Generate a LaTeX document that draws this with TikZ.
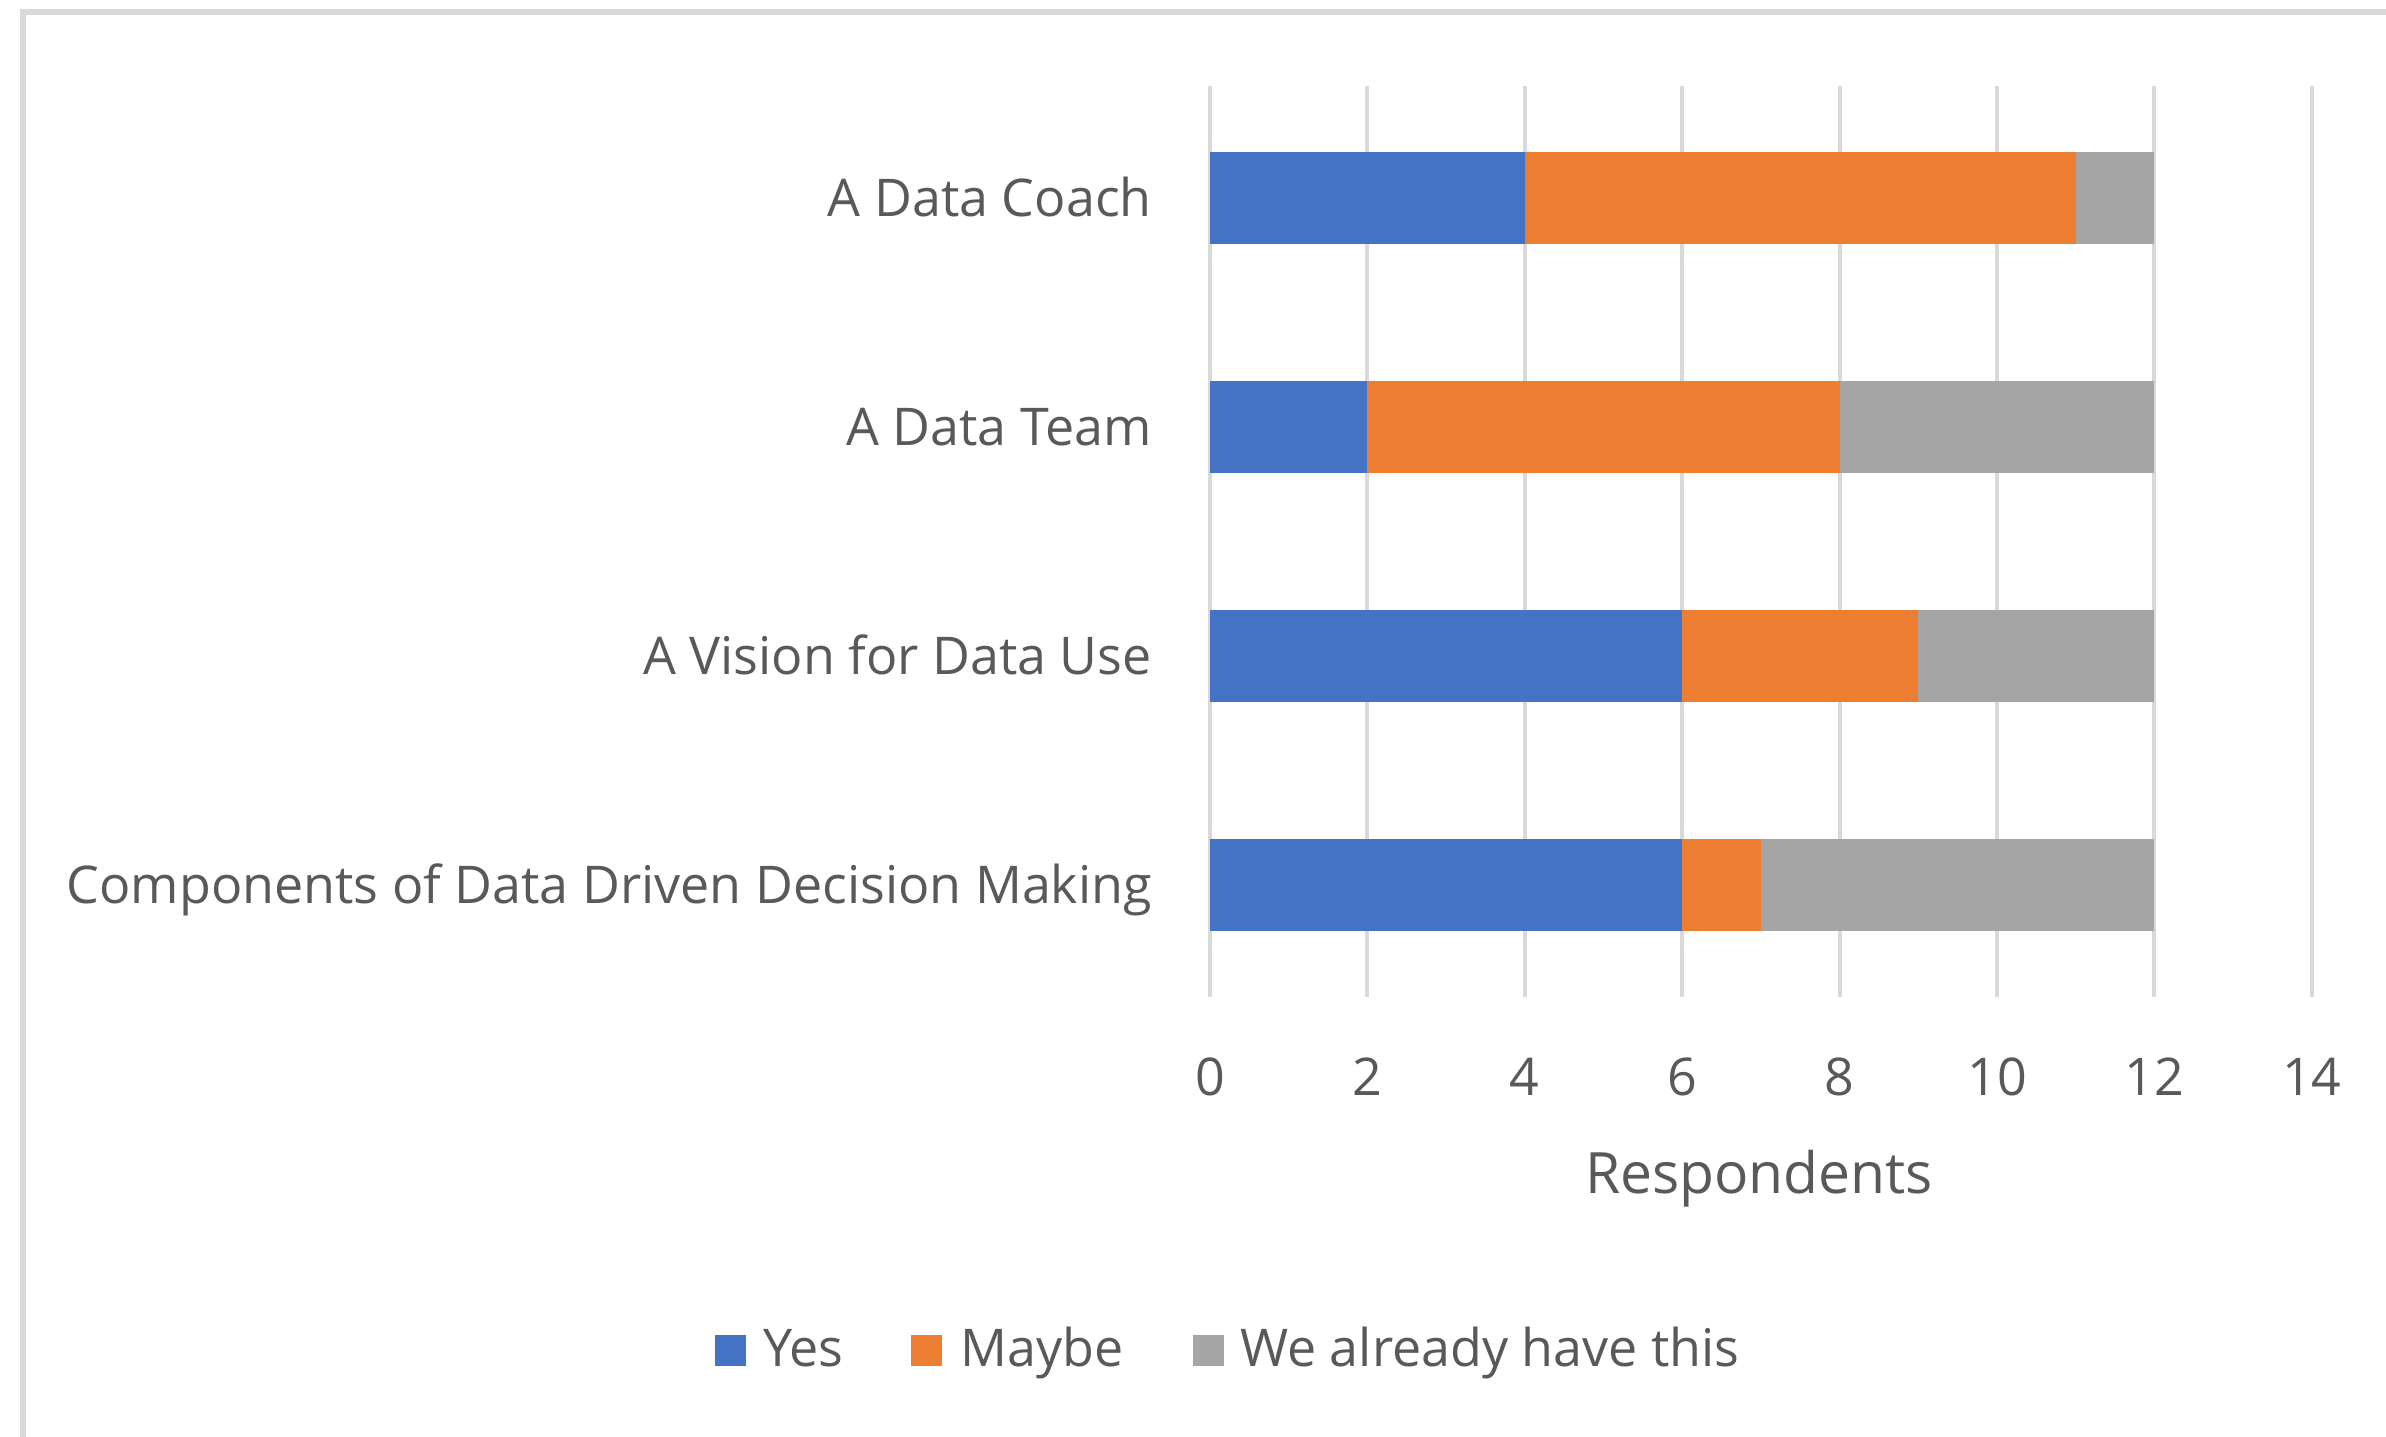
\documentclass[tikz,border=0pt]{standalone}
\usepackage{fontspec}
\setmainfont{Open Sans}
\definecolor{cblue}{HTML}{4472C4}
\definecolor{corange}{HTML}{ED7D31}
\definecolor{cgray}{HTML}{A5A5A5}
\definecolor{gridcol}{HTML}{D9D9D9}
\definecolor{txtgray}{HTML}{595959}
\tikzset{
  lbl/.style={text=txtgray, inner sep=0pt, font=\fontsize{52}{62}\selectfont},
  titlelbl/.style={text=txtgray, inner sep=0pt, font=\fontsize{57}{68}\selectfont},
  gridline/.style={draw=gridcol, line width=4pt},
  framestyle/.style={draw=gridcol, line width=6pt},
  keybox/.style={minimum width=31pt, minimum height=31pt, inner sep=0pt, draw=none}
}
\begin{document}
\begin{tikzpicture}[x=1pt,y=-1pt]
\useasboundingbox (0,0) rectangle (2386,1436);
\begin{scope}
\clip (0,0) rectangle (2386,1436);
\draw[framestyle] (23,12) rectangle (2700,1800);
\end{scope}
% gridlines
\foreach \v in {0,2,...,14} {
  \draw[gridline] ({1210+78.7*\v},86) coordinate (gt\v) -- ({1210+78.7*\v},997) coordinate (gb\v);
  \node[lbl, anchor=base] (tick\v) at ({1210+78.7*\v},1095) {\v};
}
% bars
\foreach \n/\y/\a/\b in {coach/152/4/11, team/381/2/8, vision/610/6/9, comp/839/6/7} {
  \fill[cblue] (1210,\y) rectangle ({1210+78.7*\a},{\y+92});
  \fill[corange] ({1210+78.7*\a},\y) rectangle ({1210+78.7*\b},{\y+92});
  \fill[cgray] ({1210+78.7*\b},\y) rectangle ({1210+78.7*12},{\y+92});
}
% category labels
\node[lbl, anchor=base east] (lcoach) at (1152,216) {A Data Coach};
\node[lbl, anchor=base east] (lteam) at (1152,445) {A Data Team};
\node[lbl, anchor=base east] (lvision) at (1152,674) {A Vision for Data Use};
\node[lbl, anchor=base east] (lcomp) at (1152,903) {Components of Data Driven Decision Making};
% axis title
\node[titlelbl, anchor=base] (xtitle) at (1759,1193) {Respondents};
% legend
\node[keybox, fill=cblue] (kyes) at (730.5,1350) {};
\node[lbl, anchor=base west] (tyes) at (763,1366) {Yes};
\node[keybox, fill=corange] (kmaybe) at (926,1350) {};
\node[lbl, anchor=base west] (tmaybe) at (960,1366) {Maybe};
\node[keybox, fill=cgray] (khave) at (1208,1350) {};
\node[lbl, anchor=base west] (thave) at (1240,1366) {We already have this};
\end{tikzpicture}
\end{document}
